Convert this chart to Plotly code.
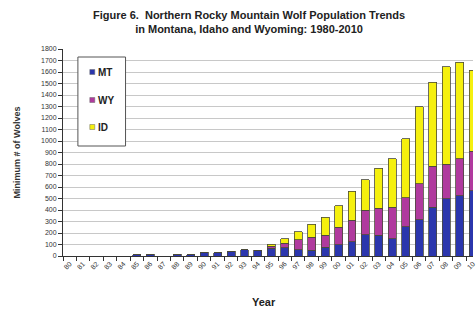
import plotly.graph_objects as go

years = ["80", "81", "82", "83", "84", "85", "86", "87", "88", "89",
         "90", "91", "92", "93", "94", "95", "96", "97", "98", "99",
         "00", "01", "02", "03", "04", "05", "06", "07", "08", "09", "10"]
mt = [0, 0, 0, 0, 0, 13, 15, 0, 14, 12,
      33, 29, 41, 55, 48, 66, 70, 56, 49, 74,
      97, 123, 183, 182, 152, 256, 316, 422, 497, 524, 566]
wy = [0, 0, 0, 0, 0, 0, 0, 0, 0, 0,
      0, 0, 0, 0, 0, 21, 40, 86, 112, 107,
      153, 189, 217, 234, 272, 252, 311, 359, 302, 320, 343]
id_ = [0, 0, 0, 0, 0, 0, 0, 0, 0, 0,
       0, 0, 0, 0, 0, 14, 42, 71, 114, 156,
       187, 251, 263, 345, 422, 512, 673, 732, 846, 843, 705]
series_names = ["MT", "WY", "ID"]
series_colors = ["#2b36ad", "#b03a9e", "#f5f00e"]
y_ticks = list(range(0, 1900, 100))

font = "Liberation Sans, Arial, sans-serif"
line = dict(color="#4a4a3a", width=0.8)

W, H = 476, 310
ML, MR, MT_, MB = 63, 0, 49, 54
pw = W - ML - MR
ph = H - MT_ - MB


def px(x):
    return (x - ML) / pw


def py(y):
    return (H - MB - y) / ph


fig = go.Figure()
for name, vals, col in zip(series_names, [mt, wy, id_], series_colors):
    fig.add_trace(go.Bar(x=years, y=vals, name=name,
                         marker=dict(color=col, line=line), showlegend=False))

shapes = [dict(type="rect", xref="paper", yref="paper",
               x0=px(78), x1=px(126), y0=py(146), y1=py(57),
               line=dict(color="#555", width=1), fillcolor="white", layer="above")]
annotations = []
legend_y = [72, 100, 127]
for name, col, ly in zip(series_names, series_colors, legend_y):
    shapes.append(dict(type="rect", xref="paper", yref="paper",
                       x0=px(90), x1=px(95), y0=py(ly + 2.5), y1=py(ly - 2.5),
                       line=dict(color="#666", width=0.5), fillcolor=col, layer="above"))
    annotations.append(dict(text=name, x=px(96), y=py(ly), xref="paper", yref="paper",
                            xanchor="left", yanchor="middle", showarrow=False,
                            font=dict(size=10, family=font, color="#222", weight="bold")))

annotations += [
    dict(text="Figure 6.  Northern Rocky Mountain Wolf Population Trends<br>in Montana, Idaho and Wyoming: 1980-2010",
         x=px(250), y=py(22), xref="paper", yref="paper", showarrow=False, yanchor="middle",
         font=dict(size=11, family=font, color="#222", weight="bold")),
    dict(text="Year", x=px(265), y=py(302), xref="paper", yref="paper", showarrow=False,
         yanchor="middle",
         font=dict(size=11, family=font, color="#222", weight="bold")),
]

fig.update_layout(
    width=W, height=H,
    margin=dict(l=ML, r=MR, t=MT_, b=MB),
    paper_bgcolor="white", plot_bgcolor="white",
    barmode="stack", bargap=0.41,
    font=dict(family=font, color="#222"),
    showlegend=False,
    xaxis=dict(type="category", range=[-0.5, 30.0], tickangle=-45,
               tickfont=dict(size=7, color="#333"), ticks="outside", ticklen=4,
               tickson="boundaries", tickcolor="#333",
               showline=True, linecolor="#333", linewidth=1, showgrid=False),
    yaxis=dict(range=[0, 1800], tickvals=y_ticks, tickfont=dict(size=7, color="#333"),
               ticks="outside", ticklen=4, tickcolor="#333",
               showline=True, linecolor="#333", linewidth=1,
               showgrid=True, gridcolor="#c8c8c8", gridwidth=1,
               title=dict(text="Minimum # of Wolves", standoff=18,
                          font=dict(size=9, family=font, color="#333", weight="bold"))),
    shapes=shapes,
    annotations=annotations,
)

fig.write_html("out.html", config={"displayModeBar": False},
               post_script="document.body.style.margin='0';document.body.style.overflow='hidden';")
